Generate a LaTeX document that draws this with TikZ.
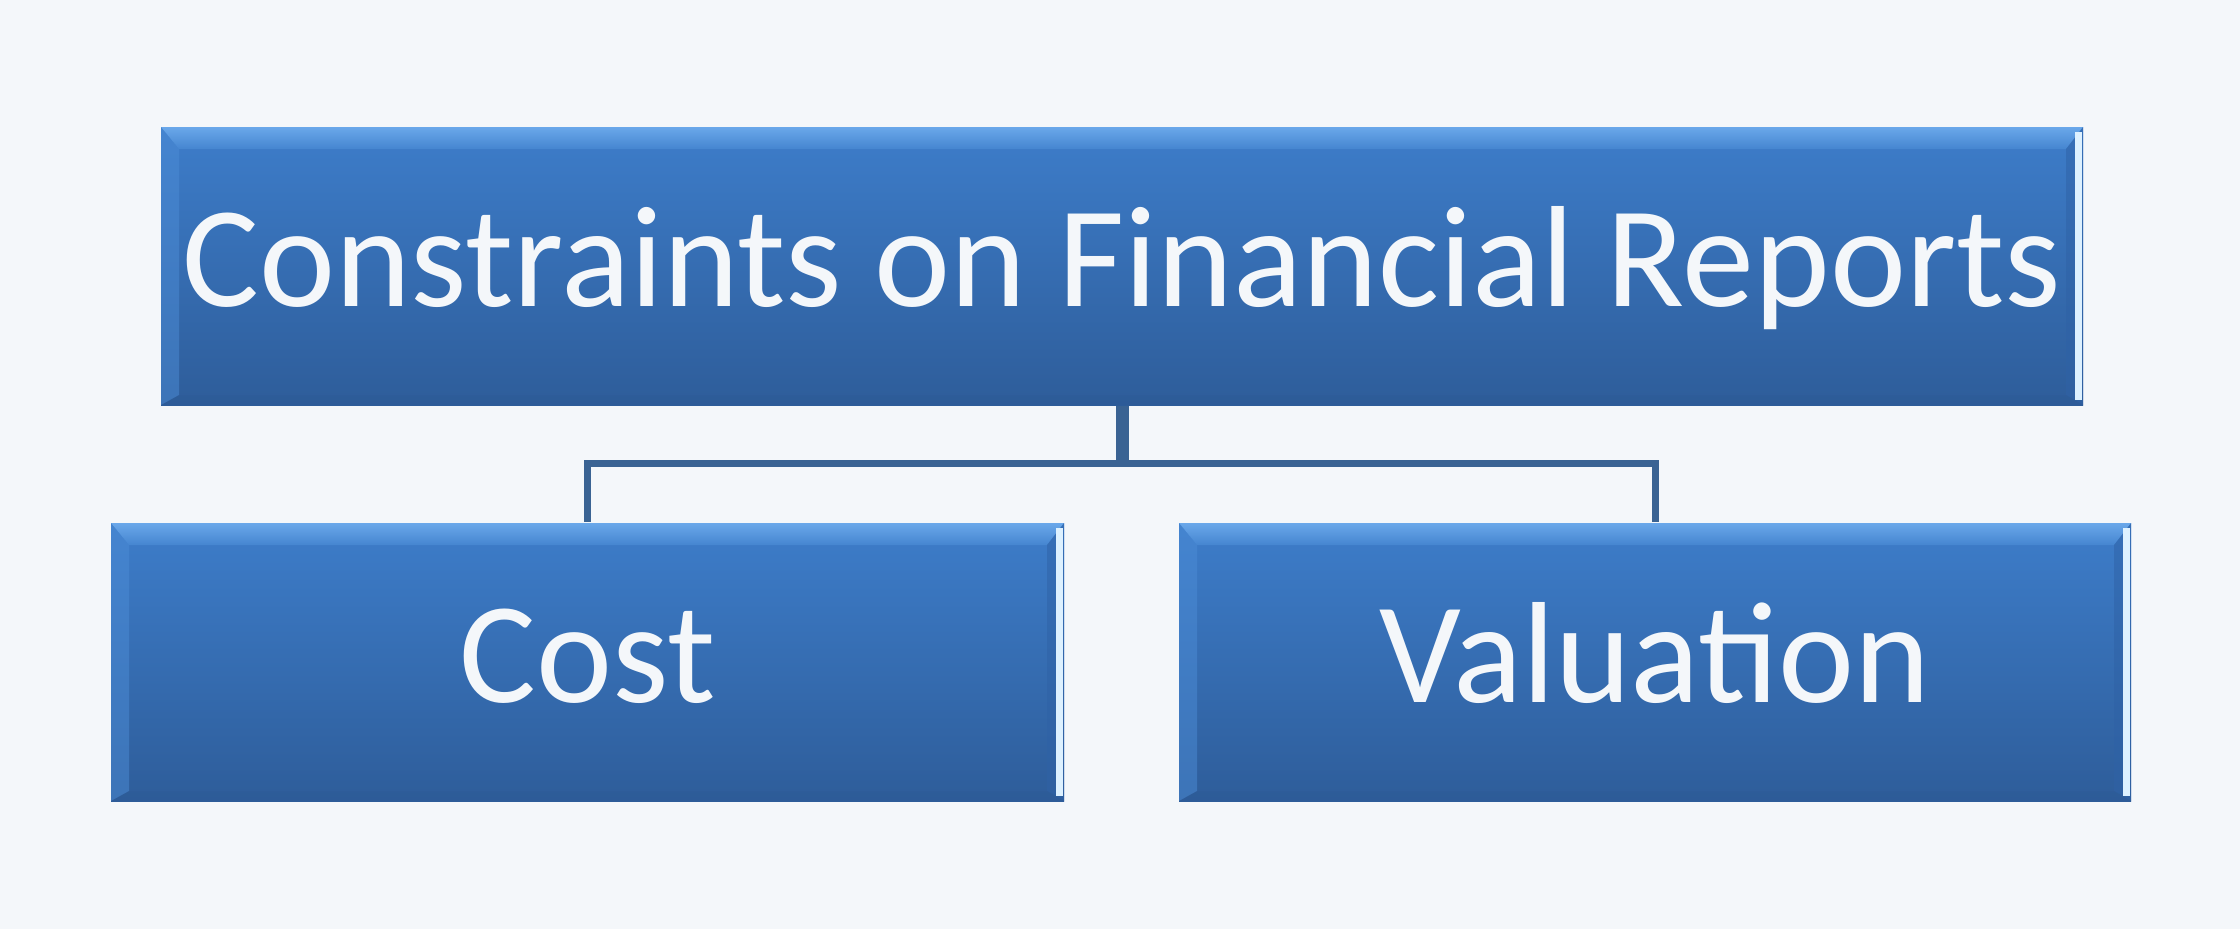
\documentclass[tikz,border=0pt]{standalone}
\usepackage{fontspec}
\setmainfont{Carlito}
\usepackage{xcolor}
\usetikzlibrary{shapes, positioning}

\definecolor{bgcol}{HTML}{F4F7FA}
\definecolor{boxtop}{HTML}{3D7DCA}
\definecolor{boxbot}{HTML}{2E5D9A}
\definecolor{bevlight}{HTML}{98D3FF}
\definecolor{bevmid}{HTML}{6AA8EA}
\definecolor{bevlow}{HTML}{4585D0}
\definecolor{bevleft}{HTML}{4C8CD6}
\definecolor{bevright}{HTML}{2F62A6}
\definecolor{bevedge}{HTML}{DDF1FF}
\definecolor{bevbot}{HTML}{2C5994}
\definecolor{linkcol}{HTML}{3A6393}

\tikzset{
  box/.style={rectangle, inner sep=0pt, minimum height=2.78cm,
    top color=boxtop, bottom color=boxbot, text=bgcol,
    font=\fontsize{41}{49}\selectfont, text height=0.93cm, text depth=0.12cm,
    path picture={
      \coordinate (nw) at (path picture bounding box.north west);
      \coordinate (ne) at (path picture bounding box.north east);
      \coordinate (sw) at (path picture bounding box.south west);
      \coordinate (se) at (path picture bounding box.south east);
      % bevel strips
      \shade[top color=bevmid, middle color=bevlight, bottom color=bevlow]
        (nw) -- (ne) -- ([xshift=-0.17cm,yshift=-0.22cm]ne)
        -- ([xshift=0.18cm,yshift=-0.22cm]nw) -- cycle;
      \fill[bevleft, opacity=0.5]
        (nw) -- ([xshift=0.18cm,yshift=-0.22cm]nw)
        -- ([xshift=0.18cm,yshift=0.1cm]sw) -- (sw) -- cycle;
      \fill[bevright, opacity=0.5]
        (ne) -- ([xshift=-0.17cm,yshift=-0.22cm]ne)
        -- ([xshift=-0.17cm,yshift=0.1cm]se) -- (se) -- cycle;
      \fill[bevbot, opacity=0.3]
        (sw) -- ([xshift=0.18cm,yshift=0.1cm]sw)
        -- ([xshift=-0.17cm,yshift=0.1cm]se) -- (se) -- cycle;
      \fill[bevedge] ([xshift=-0.08cm,yshift=-0.05cm]ne) rectangle ([xshift=-0.01cm,yshift=0.05cm]se);
    }},
  link/.style={draw=linkcol, line width=0.07cm}
}

\begin{document}
\begin{tikzpicture}
        \fill[bgcol] (0,0) rectangle (22.4,-9.29);
        \useasboundingbox (0,0) rectangle (22.4,-9.29);

        \node[box, minimum width=19.22cm] (A) at (11.22,-2.66) {Constraints on Financial Reports};
        \node[box, minimum width=9.53cm] (B) at (5.875,-6.62) {Cost};
        \node[box, minimum width=9.52cm] (C) at (16.55,-6.62) {Valuation};

        \coordinate (J) at ([yshift=-0.58cm]A.south);
        \draw[link, line width=0.13cm] (A.south) -- (J);
        \draw[link] (J) -| (B.north);
        \draw[link] (J) -| (C.north);

      \end{tikzpicture}
\end{document}
